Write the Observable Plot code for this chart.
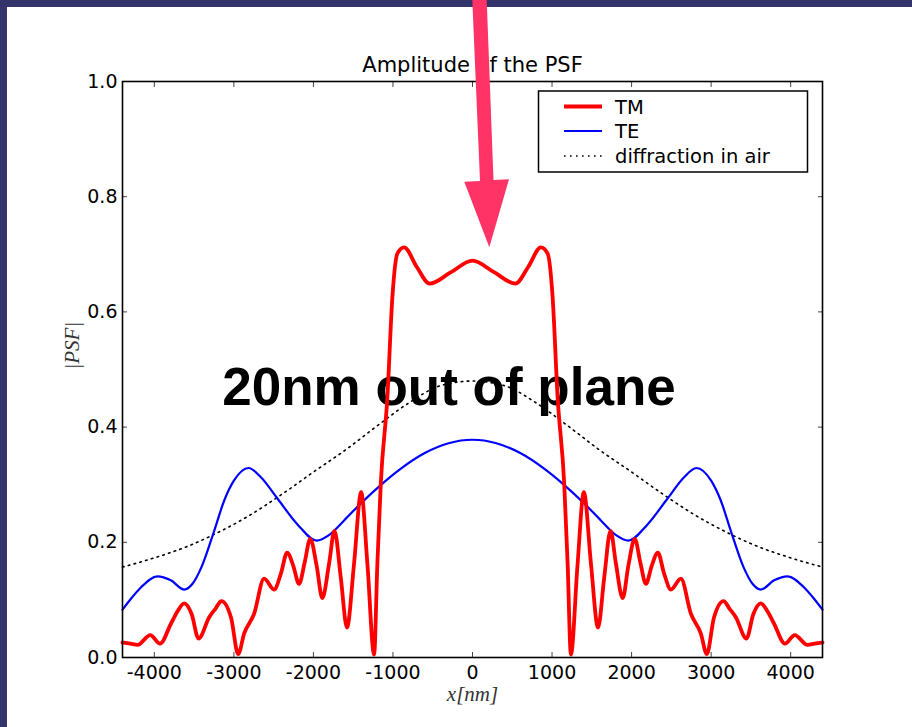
<!DOCTYPE html>
<html>
<head>
<meta charset="utf-8">
<script src="https://cdn.jsdelivr.net/npm/d3@7"></script>
<script src="https://cdn.jsdelivr.net/npm/@observablehq/plot@0.6"></script>
<style>
  html, body { margin: 0; padding: 0; }
  body { width: 912px; height: 727px; overflow: hidden; background: #33346a; position: relative; }
  #panel { position: absolute; left: 7px; top: 7px; right: 0; bottom: 0; background: #ffffff; }
  #back, #chart, #front { position: absolute; left: 0; top: 0; }
</style>
</head>
<body>
<div id="panel"></div>
<svg id="back" width="912" height="727"></svg>
<div id="chart"></div>
<svg id="front" width="912" height="727"></svg>
<script>
// Labels
const title = "Amplitude of the PSF";
const xLabel = "x[nm]";
const yLabel = "|PSF|";
const note = "20nm out of plane";

// Series
const seriesNames = ["TM", "TE", "diffraction in air"];
const seriesColors = ["#ff0000", "#0000ff", "#000000"];

// Tick values
const xTicks = [-4000, -3000, -2000, -1000, 0, 1000, 2000, 3000, 4000];
const yTicks = [0, 0.2, 0.4, 0.6, 0.8, 1.0];

// TM polarisation, |PSF| vs x (nm)
const tmX = [-4400, -4300, -4211, -4051, -3928, -3790, -3710, -3624, -3530, -3444, -3310, -3230, -3156, -3035, -2946, -2870, -2745, -2620, -2495, -2410, -2330, -2255, -2180, -2110, -2040, -1960, -1888, -1803, -1735, -1656, -1578, -1489, -1400, -1320, -1237, -1196, -1153, -1070, -1007, -945, -860, -700, -540, -270,
  0, 270, 540, 700, 860, 945, 1007, 1070, 1153, 1196, 1237, 1320, 1400, 1489, 1578, 1656, 1735, 1803, 1888, 1960, 2040, 2110, 2180, 2255, 2330, 2410, 2495, 2620, 2745, 2870, 2946, 3035, 3156, 3230, 3310, 3444, 3530, 3624, 3710, 3790, 3928, 4051, 4211, 4300, 4400];
const tmY = [0.026, 0.024, 0.022, 0.039, 0.024, 0.059, 0.080, 0.094, 0.075, 0.033, 0.070, 0.085, 0.098, 0.069, 0.006, 0.042, 0.076, 0.137, 0.118, 0.145, 0.182, 0.160, 0.128, 0.165, 0.206, 0.160, 0.103, 0.163, 0.220, 0.139, 0.052, 0.163, 0.287, 0.160, 0.005, 0.163, 0.302, 0.452, 0.626, 0.701, 0.712, 0.678, 0.649, 0.669,
  0.689, 0.669, 0.649, 0.678, 0.712, 0.701, 0.626, 0.452, 0.302, 0.163, 0.005, 0.160, 0.287, 0.163, 0.052, 0.139, 0.220, 0.163, 0.103, 0.160, 0.206, 0.165, 0.128, 0.160, 0.182, 0.145, 0.118, 0.137, 0.076, 0.042, 0.006, 0.069, 0.098, 0.085, 0.070, 0.033, 0.075, 0.094, 0.080, 0.059, 0.024, 0.039, 0.022, 0.024, 0.026];

// TE polarisation
const teX = [-4400, -4294, -4166, -3960, -3792, -3624, -3520, -3410, -3247, -3120, -3000, -2815, -2660, -2452, -2200, -1960, -1800, -1614, -1400, -1133, -900, -600, -300,
  0, 300, 600, 900, 1133, 1400, 1614, 1800, 1960, 2200, 2452, 2660, 2815, 3000, 3120, 3247, 3410, 3520, 3624, 3792, 3960, 4166, 4294, 4400];
const teY = [0.083, 0.102, 0.122, 0.141, 0.134, 0.118, 0.128, 0.156, 0.220, 0.273, 0.307, 0.329, 0.313, 0.276, 0.231, 0.203, 0.213, 0.238, 0.268, 0.302, 0.328, 0.355, 0.372,
  0.378, 0.372, 0.355, 0.328, 0.302, 0.268, 0.238, 0.213, 0.203, 0.231, 0.276, 0.313, 0.329, 0.307, 0.273, 0.220, 0.156, 0.128, 0.118, 0.134, 0.141, 0.122, 0.102, 0.083];

// Diffraction-limited spot in air
const airX = [-4400, -4000, -3600, -3200, -2800, -2400, -2000, -1600, -1200, -800, -400, 0, 400, 800, 1200, 1600, 2000, 2400, 2800, 3200, 3600, 4000, 4400];
const airY = [0.157, 0.173, 0.192, 0.217, 0.247, 0.283, 0.322, 0.360, 0.402, 0.442, 0.472, 0.480, 0.472, 0.442, 0.402, 0.360, 0.322, 0.283, 0.247, 0.217, 0.192, 0.173, 0.157];

const rows = (name, xs, ys) => xs.map((x, i) => ({series: name, x, y: ys[i]}));
const tm = rows(seriesNames[0], tmX, tmY);
const te = rows(seriesNames[1], teX, teY);
const air = rows(seriesNames[2], airX, airY);

const tickFont = "DejaVu Sans";

const chart = Plot.plot({
  width: 912,
  height: 727,
  marginLeft: 122,
  marginRight: 90,
  marginTop: 81,
  marginBottom: 70,
  style: {background: "transparent", fontFamily: tickFont, color: "#000"},
  x: {domain: [-4400, 4400]},
  y: {domain: [0, 1]},
  marks: [
    Plot.lineY(air, {x: "x", y: "y", curve: "monotone-x", stroke: seriesColors[2], strokeWidth: 1.6, strokeDasharray: "1.6 4.4"}),
    Plot.lineY(te, {x: "x", y: "y", curve: "monotone-x", stroke: seriesColors[1], strokeWidth: 2.2}),
    Plot.lineY(tm, {x: "x", y: "y", curve: "monotone-x", stroke: seriesColors[0], strokeWidth: 3.8, strokeLinejoin: "round"}),
    Plot.axisX({anchor: "bottom", ticks: xTicks, tickSize: -5, tickPadding: 13, tickFormat: d => String(d), label: null, fontSize: 19, stroke: "#444"}),
    Plot.axisX({anchor: "top", ticks: xTicks, tickSize: -5, tickFormat: () => "", label: null, stroke: "#444"}),
    Plot.axisY({anchor: "left", ticks: yTicks, tickSize: -5, tickPadding: 10, tickFormat: d3.format(".1f"), label: null, fontSize: 19, stroke: "#444"}),
    Plot.axisY({anchor: "right", ticks: yTicks, tickSize: -5, tickFormat: () => "", label: null, stroke: "#444"}),
    Plot.frame({stroke: "#000", strokeWidth: 1.6}),
    Plot.text([title], {text: d => d, frameAnchor: "top", dy: -24, fontSize: 21, fontFamily: tickFont, fill: "#000"}),
    Plot.text([xLabel], {text: d => d, frameAnchor: "bottom", lineAnchor: "middle", dy: 37, fontSize: 21, fontFamily: "Liberation Serif", fontStyle: "italic", fill: "#333"}),
    Plot.text([yLabel], {text: d => d, frameAnchor: "left", dx: -50, rotate: -90, fontSize: 21, fontFamily: "Liberation Serif", fontStyle: "italic", fill: "#333"})
  ]
});
document.getElementById("chart").appendChild(chart);

// Annotation text behind the curves
const back = d3.select("#back");
back.append("text")
  .attr("x", 449).attr("y", 405)
  .attr("text-anchor", "middle")
  .attr("font-family", "Liberation Sans, Arial, sans-serif")
  .attr("font-weight", "bold")
  .attr("font-size", 53)
  .attr("fill", "#000")
  .text(note);

// Legend box and pointer arrow on top
const front = d3.select("#front");
const lg = front.append("g");
lg.append("rect").attr("x", 538.5).attr("y", 91).attr("width", 269).attr("height", 81)
  .attr("fill", "#fff").attr("stroke", "#000").attr("stroke-width", 1.5);
const legendRows = [106.5, 131, 156];
const legendWidths = [3.8, 2.2, 1.6];
const legendDash = [null, null, "1.6 4.4"];
seriesNames.forEach((name, i) => {
  lg.append("line").attr("x1", 564).attr("x2", 602).attr("y1", legendRows[i]).attr("y2", legendRows[i])
    .attr("stroke", seriesColors[i]).attr("stroke-width", legendWidths[i])
    .attr("stroke-dasharray", legendDash[i]);
  lg.append("text").attr("x", 615).attr("y", legendRows[i] + 7)
    .attr("font-family", tickFont).attr("font-size", 19.5).attr("fill", "#000")
    .text(name);
});

front.append("path")
  .attr("d", "M472.3,0 L486.7,0 L493.5,180 L509,179.3 L489.3,247.3 L464.3,181.7 L480,181 Z")
  .attr("fill", "#ff3366");
</script>
</body>
</html>
